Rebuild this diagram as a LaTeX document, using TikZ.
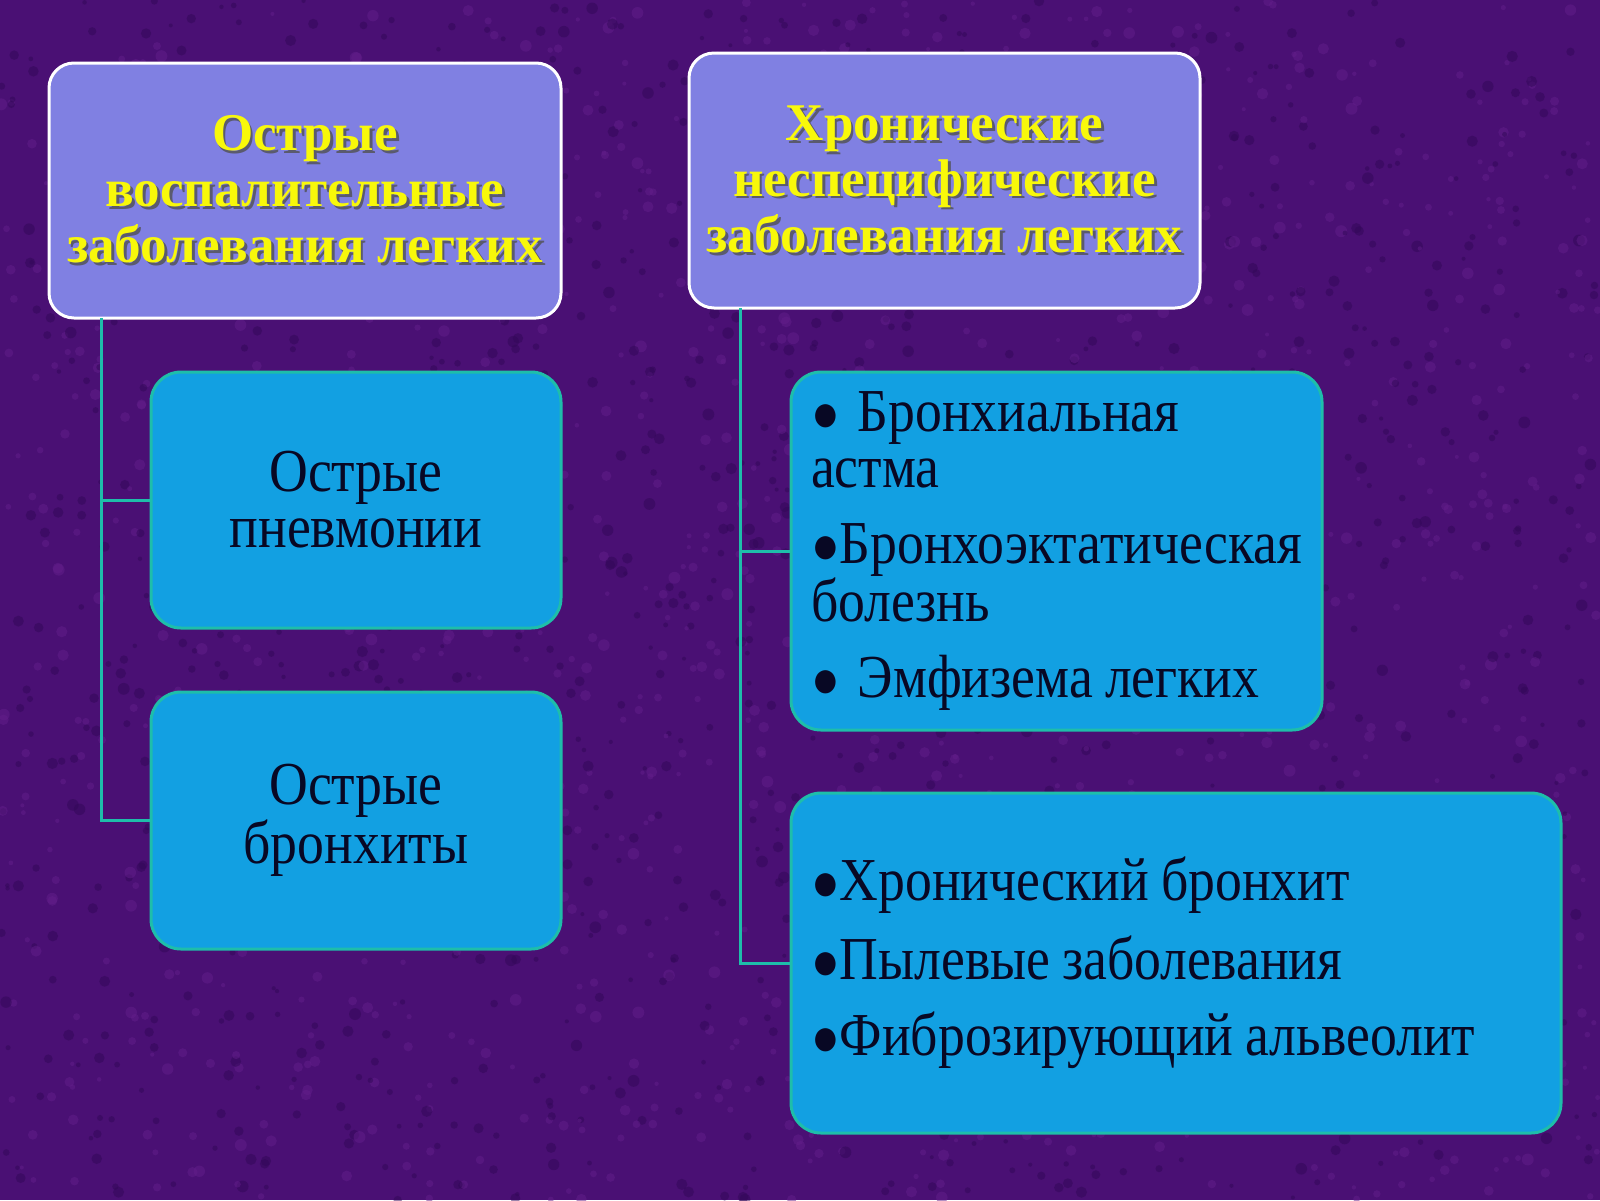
\documentclass[tikz,border=0pt]{standalone}
\usepackage{fontspec}
\setmainfont{Liberation Serif}
\newfontfamily\bodyfont[FakeStretch=0.88]{Liberation Serif}
\definecolor{bgpurple}{RGB}{74,16,116}
\definecolor{bgdark}{RGB}{50,8,88}
\definecolor{bglight}{RGB}{98,30,138}
\definecolor{lav}{RGB}{128,128,226}
\definecolor{cyanbox}{RGB}{18,160,226}
\definecolor{tealline}{RGB}{30,190,170}
\definecolor{titleyellow}{RGB}{248,248,10}
\definecolor{titleshadow}{RGB}{90,90,110}
\definecolor{bodytext}{RGB}{8,8,36}
\newcommand\shl[1]{\leavevmode\rlap{\kern1.4pt\raisebox{-1.4pt}{\color{titleshadow}#1}}#1}
\newcommand\bul{{\fontsize{27}{28}\selectfont ●}}
\newcommand\tightspace{\spaceskip=6pt\relax}
\tikzset{
  x=0.5pt, y=-0.5pt,
  titlebox/.style={draw=white, line width=1.5pt, fill=lav, rounded corners=12.5pt,
    align=center, text=titleyellow, font=\fontsize{26.5}{28}\selectfont\bfseries,
    inner sep=0pt},
  itembox/.style={draw=tealline, line width=1.5pt, fill=cyanbox, rounded corners=15pt,
    text=bodytext, font=\bodyfont\fontsize{30.5}{28}\selectfont,
    execute at begin node=\tightspace, inner sep=0pt},
  listbox/.style={itembox, align=left, inner xsep=10pt},
  conn/.style={draw=tealline, line width=1.5pt},
}
\begin{document}
\begin{tikzpicture}
\useasboundingbox (0,0) rectangle (1600,1200);
\begin{scope}
\clip (0,0) rectangle (1600,1200);
\fill[bgpurple] (0,0) rectangle (1600,1200);
\pgfmathsetseed{7}
\foreach \i in {1,...,2500}{
  \pgfmathsetmacro\px{rnd*1600}
  \pgfmathsetmacro\py{rnd*1200}
  \pgfmathsetmacro\sz{2+rnd*4}
  \pgfmathsetmacro\cc{rnd<0.5 ? "bgdark" : "bglight"}
  \fill[\cc, opacity=0.5] (\px,\py) circle[radius=\sz*0.5pt];
}
\end{scope}

\node[titlebox, minimum width=256pt, minimum height=127.5pt] (A) at (305,190.5)
  {\shl{Острые}\\ \shl{воспалительные}\\ \shl{заболевания легких}};
\node[titlebox, minimum width=255.5pt, minimum height=127.5pt] (B) at (944.5,180.5)
  {\shl{Хронические}\\ \shl{неспецифические}\\ \shl{заболевания легких}};

\node[itembox, align=center, minimum width=205pt, minimum height=128pt] (C) at (356,500)
  {Острые\\ пневмонии};
\node[itembox, align=center, minimum width=205pt, minimum height=128.5pt] (D) at (356,820.5)
  {Острые\\ бронхиты};

\node[listbox, text width=245.5pt, minimum height=179pt] (E) at (1056.5,551)
  {\bul\hspace{9pt}Бронхиальная\\ астма\\[10pt] \bul Бронхоэктатическая\\ болезнь\\[10pt] \bul\hspace{9pt}Эмфизема легких};
\node[listbox, text width=365pt, minimum height=170pt] (F) at (1176,963)
  {\bul Хронический бронхит\\[10pt] \bul Пылевые заболевания\\[10pt] \bul Фиброзирующий альвеолит};

\coordinate (lt) at (101,318);
\coordinate (rt) at (740,308);
\path[conn] (lt) -- (lt |- D.west) -- (D.west);
\path[conn] (lt |- C.west) -- (C.west);
\path[conn] (rt) -- (rt |- F.west) -- (F.west);
\path[conn] (rt |- E.west) -- (E.west);
\end{tikzpicture}
\end{document}
